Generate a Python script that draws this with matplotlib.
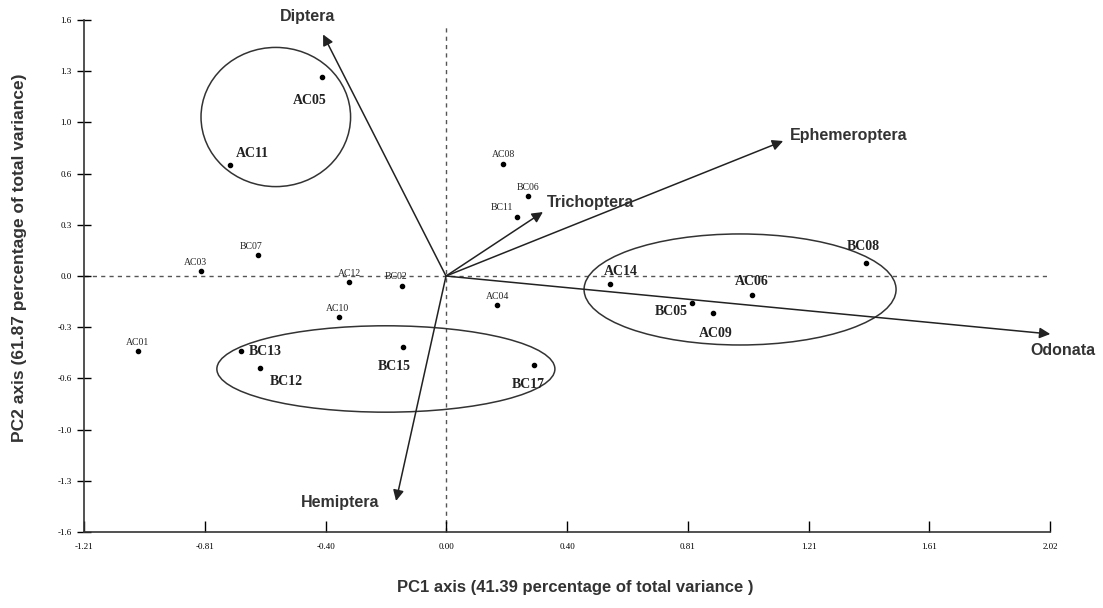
import numpy as np
import matplotlib
matplotlib.use("Agg")
import matplotlib.pyplot as plt
from matplotlib.patches import Ellipse

# site scores (PC1, PC2)
sites = ["AC05", "AC11", "BC07", "AC03", "AC12", "BC02", "AC10", "AC01",
         "BC13", "BC12", "BC15", "BC17", "AC04", "AC08", "BC06", "BC11",
         "AC14", "AC06", "BC05", "AC09", "BC08"]
pc1 = [-0.415, -0.722, -0.629, -0.819, -0.324, -0.147, -0.358, -1.030,
       -0.686, -0.622, -0.144, 0.294, 0.171, 0.191, 0.274, 0.237,
       0.548, 1.023, 0.823, 0.893, 1.405]
pc2 = [1.244, 0.694, 0.131, 0.031, -0.038, -0.063, -0.256, -0.469,
       -0.469, -0.575, -0.444, -0.556, -0.181, 0.700, 0.500, 0.369,
       -0.050, -0.119, -0.169, -0.231, 0.081]
grouped = ["AC05", "AC11", "BC13", "BC12", "BC15", "BC17",
           "AC14", "AC06", "BC05", "AC09", "BC08"]

# taxa loadings
taxa = ["Diptera", "Ephemeroptera", "Trichoptera", "Odonata", "Hemiptera"]
load1 = [-0.411, 1.127, 0.324, 2.02, -0.167]
load2 = [1.51, 0.844, 0.40, -0.3625, -1.406]

# group ellipses: center x, center y, width, height
ell_cx = [-0.569, -0.201, 0.983]
ell_cy = [0.994, -0.581, -0.084]
ell_w = [0.50, 1.13, 1.043]
ell_h = [0.87, 0.54, 0.694]

xticklabels = ["-1.21", "-0.81", "-0.40", "0.00", "0.40", "0.81", "1.21", "1.61", "2.02"]
yticklabels = ["-1.6", "-1.3", "-1.0", "-0.6", "-0.3", "0.0", "0.3", "0.6", "1.0", "1.3", "1.6"]

# label offsets in points (dx, dy, ha)
offsets = {
    "AC05": (-9, -17, "center"), "AC11": (4, 8, "left"), "BC07": (-5, 6, "center"),
    "AC03": (-4, 6, "center"), "AC12": (0, 6, "center"), "BC02": (-4, 7, "center"),
    "AC10": (-1, 6, "center"), "AC01": (0, 6, "center"), "BC13": (6, 0, "left"),
    "BC12": (7, -10, "left"), "BC15": (-6, -14, "center"), "BC17": (-4, -14, "center"),
    "AC04": (0, 6, "center"), "AC08": (0, 7, "center"), "BC06": (0, 6, "center"),
    "BC11": (-11, 7, "center"), "AC14": (8, 9, "center"), "AC06": (0, 10, "center"),
    "BC05": (-3, -6, "right"), "AC09": (2, -15, "center"), "BC08": (-2, 12, "center"),
}
taxa_off = {
    "Diptera": (-11, 13, "center"), "Ephemeroptera": (5, 4, "left"),
    "Trichoptera": (3, 7, "left"), "Odonata": (9, -12, "center"),
    "Hemiptera": (-12, -1, "right"),
}

fig = plt.figure(figsize=(11.03, 6.08), dpi=100)
ax = fig.add_axes([0.0762, 0.125, 0.876, 0.842])
ax.set_xlim(-1.21, 2.02)
ax.set_ylim(-1.6, 1.6)

ax.axhline(0, color="#555555", ls=(0, (3, 3)), lw=1.0, zorder=1)
ax.plot([0, 0], [-1.6, 1.56], color="#555555", ls=(0, (3, 3)), lw=1.0, zorder=1)

for cx, cy, w, h in zip(ell_cx, ell_cy, ell_w, ell_h):
    ax.add_patch(Ellipse((cx, cy), w, h, fill=False, ec="#333333", lw=1.1))

for name, dx, dy in zip(taxa, load1, load2):
    ax.annotate("", xy=(dx, dy), xytext=(0, 0),
                arrowprops=dict(arrowstyle="-|>", color="#222222", lw=1.1,
                                mutation_scale=16, shrinkA=0, shrinkB=0))
    ox, oy, ha = taxa_off[name]
    ax.annotate(name, (dx, dy), xytext=(ox, oy), textcoords="offset points",
                ha=ha, va="center", fontsize=11.5, fontweight="bold",
                family="Liberation Sans", color="#333333", annotation_clip=False)

ax.scatter(pc1, pc2, s=9, color="black", zorder=3)
for name, x, y in zip(sites, pc1, pc2):
    ox, oy, ha = offsets[name]
    bold = name in grouped
    ax.annotate(name, (x, y), xytext=(ox, oy), textcoords="offset points",
                ha=ha, va="center", family="Liberation Serif",
                fontsize=10 if bold else 7, fontweight="bold" if bold else "normal",
                color="#222222")

ax.set_xticks(np.linspace(-1.21, 2.02, len(xticklabels)))
ax.set_xticklabels(xticklabels)
ax.set_yticks(np.linspace(-1.6, 1.6, len(yticklabels)))
ax.set_yticklabels(yticklabels)
ax.tick_params(axis="x", direction="in", length=8, width=1, labelsize=6.5, pad=8)
ax.tick_params(axis="y", direction="inout", length=10, width=1, labelsize=6.5, pad=4)
for lab in ax.get_xticklabels() + ax.get_yticklabels():
    lab.set_family("Liberation Serif")

for side in ["top", "right"]:
    ax.spines[side].set_visible(False)
for side in ["left", "bottom"]:
    ax.spines[side].set_linewidth(1.2)
    ax.spines[side].set_color("#333333")

ax.set_xlabel("PC1 axis (41.39 percentage of total variance )", family="Liberation Sans",
              fontsize=12, fontweight="bold", color="#333333")
ax.set_ylabel("PC2 axis (61.87 percentage of total variance)", family="Liberation Sans",
              fontsize=12.5, fontweight="bold", color="#333333")
ax.xaxis.set_label_coords(0.508, -0.094)
ax.yaxis.set_label_coords(-0.059, 0.535)

fig.savefig("out.png", dpi=100)
